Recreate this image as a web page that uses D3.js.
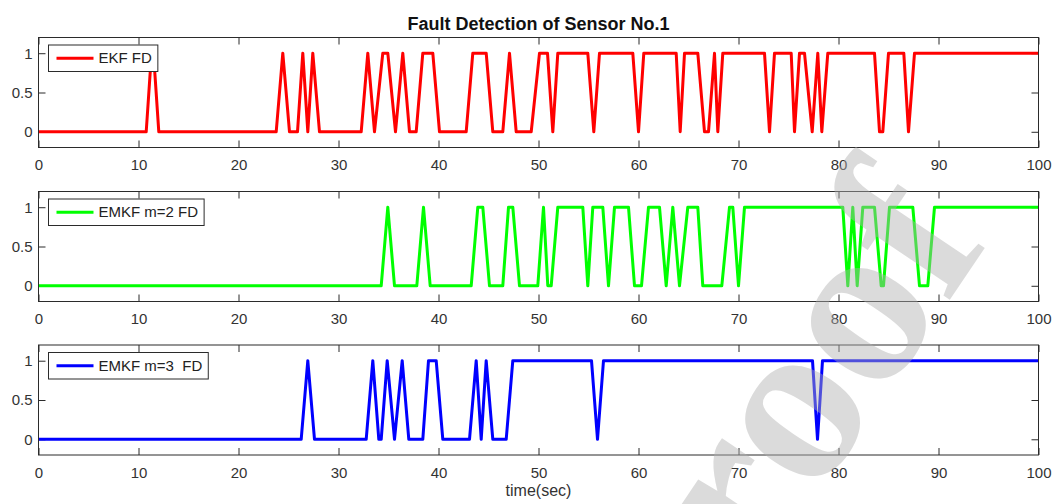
<!DOCTYPE html>
<html>
<head>
<meta charset="utf-8">
<script src="https://cdn.jsdelivr.net/npm/d3@7"></script>
<style>
html,body{margin:0;padding:0;background:#fff;}
svg{display:block;}
text{font-family:"Liberation Sans",Arial,Helvetica,sans-serif;}
</style>
</head>
<body>
<svg id="chart" width="1054" height="504"></svg>
<script>
// ---------------- data ----------------
const chartTitle = "Fault Detection of Sensor No.1";
const xLabel = "time(sec)";
const seriesNames = ["EKF FD", "EMKF m=2 FD", "EMKF m=3  FD"];
const xTickValues = [0, 10, 20, 30, 40, 50, 60, 70, 80, 90, 100];
const yTickValues = [0, 0.5, 1];

const ekfTime  = [0, 10.77, 11.3, 11.5, 12.03, 23.77, 24.43, 25.1, 25.9, 26.43, 26.93, 27.43, 28.1,
  32.27, 32.93, 33.6, 34.43, 34.93, 35.7, 36.43, 37.1, 37.77, 38.43, 39.43, 40.1,
  42.77, 43.43, 44.77, 45.43, 46.43, 47.1, 47.77, 49.27, 50.1, 50.9, 51.43, 51.93,
  54.93, 55.53, 56.1, 59.43, 60.0, 60.53, 63.77, 64.17, 64.6, 65.93, 66.6, 67.0, 67.6, 67.93, 68.43,
  72.6, 73.1, 73.6, 75.27, 75.6, 76.1, 76.6, 77.37, 77.93, 78.33, 78.93,
  83.6, 84.1, 84.43, 85.0, 86.53, 87.0, 87.6, 100];
const ekfValue = [0, 0, 1, 1, 0, 0, 1, 0, 0, 1, 0, 1, 0,
  0, 1, 0, 1, 1, 0, 1, 0, 0, 1, 1, 0,
  0, 1, 1, 0, 0, 1, 0, 0, 1, 1, 0, 1,
  1, 0, 1, 1, 0, 1, 1, 0, 1, 1, 0, 0, 1, 0, 1,
  1, 0, 1, 1, 0, 1, 1, 0, 1, 0, 1,
  1, 0, 0, 1, 1, 0, 1, 1];

const emkf2Time  = [0, 34.27, 34.93, 35.6, 37.83, 38.5, 39.17, 43.27, 43.93, 44.43, 45.1,
  46.43, 47.0, 47.43, 48.1, 49.93, 50.5, 50.93, 51.27, 51.93, 54.43, 54.93, 55.43,
  56.43, 57.0, 57.6, 59.0, 59.6, 60.3, 61.0, 62.1, 62.77, 63.43, 64.1, 64.93, 65.93, 66.43,
  68.33, 69.1, 69.43, 70.0, 70.6, 80.43, 80.93, 81.43, 81.87, 82.43, 83.6, 84.27, 84.5, 85.1,
  87.43, 88.1, 88.93, 89.6, 100];
const emkf2Value = [0, 0, 1, 0, 0, 1, 0, 0, 1, 1, 0,
  0, 1, 1, 0, 0, 1, 0, 0, 1, 1, 0, 1,
  1, 0, 1, 1, 0, 0, 1, 1, 0, 1, 0, 1, 1, 0,
  0, 1, 1, 0, 1, 1, 0, 1, 0, 1, 1, 0, 0, 1,
  1, 0, 0, 1, 1];

const emkf3Time  = [0, 26.27, 26.93, 27.6, 32.77, 33.43, 34.03, 34.27, 34.87, 35.6, 36.37, 37.03,
  38.43, 39.0, 39.77, 40.43, 43.1, 43.77, 44.27, 44.77, 45.43, 46.77, 47.43,
  55.3, 55.9, 56.5, 77.4, 77.9, 78.4, 100];
const emkf3Value = [0, 0, 1, 0, 0, 1, 0, 0, 1, 0, 1, 0,
  0, 1, 1, 0, 0, 1, 0, 1, 0, 0, 1,
  1, 0, 1, 1, 0, 1, 1];

// ---------------- layout / style ----------------
const seriesColors = ["#ff0000", "#00ff00", "#0000ff"];
const W = 1054, H = 504;
const plotLeft = 38.5, plotRight = 1038.5;
const panelTops = [37.5, 191.5, 345];
const panelH = 110;
const axisColor = "#2b2b2b";
const tickLen = 7;

const svg = d3.select("#chart");
svg.append("rect").attr("width", W).attr("height", H).attr("fill", "#fff");

const x = d3.scaleLinear().domain([0, 100]).range([plotLeft, plotRight]);

const seriesData = [
  ekfTime.map((t, i) => ({t, v: ekfValue[i]})),
  emkf2Time.map((t, i) => ({t, v: emkf2Value[i]})),
  emkf3Time.map((t, i) => ({t, v: emkf3Value[i]}))
];

panelTops.forEach((top, k) => {
  const y = d3.scaleLinear().domain([-0.2, 1.2]).range([top + panelH, top]);
  const g = svg.append("g");

  const bottom = g.append("g").attr("transform", `translate(0,${top + panelH})`)
    .call(d3.axisBottom(x).tickValues(xTickValues).tickSizeInner(-tickLen).tickSizeOuter(0).tickPadding(12).tickFormat(d3.format("d")));
  const topAx = g.append("g").attr("transform", `translate(0,${top})`)
    .call(d3.axisTop(x).tickValues(xTickValues).tickSizeInner(-tickLen).tickSizeOuter(0).tickFormat(""));
  const left = g.append("g").attr("transform", `translate(${plotLeft},0)`)
    .call(d3.axisLeft(y).tickValues(yTickValues).tickSizeInner(-tickLen).tickSizeOuter(0).tickPadding(6).tickFormat(d => d === 0.5 ? "0.5" : d3.format("d")(d)));
  const right = g.append("g").attr("transform", `translate(${plotRight},0)`)
    .call(d3.axisRight(y).tickValues(yTickValues).tickSizeInner(-tickLen).tickSizeOuter(0).tickFormat(""));
  [bottom, topAx, left, right].forEach(a => {
    a.select(".domain").remove();
    a.selectAll(".tick line").attr("stroke", axisColor).attr("stroke-width", 1);
    a.selectAll(".tick text").attr("fill", "#333").style("font-size", "15px")
      .style("font-family", "'Liberation Sans', Arial, sans-serif");
  });

  const line = d3.line().x(d => x(d.t)).y(d => y(d.v));
  g.append("path").datum(seriesData[k])
    .attr("d", line).attr("fill", "none")
    .attr("stroke", seriesColors[k]).attr("stroke-width", 3)
    .attr("stroke-linejoin", "round").attr("stroke-linecap", "butt");

  g.append("rect").attr("x", plotLeft).attr("y", top)
    .attr("width", plotRight - plotLeft).attr("height", panelH)
    .attr("fill", "none").attr("stroke", axisColor).attr("stroke-width", 1);

  const lx = plotLeft + 10, ly = top + 7.5, lh = 26.5;
  const leg = g.append("g");
  const box = leg.append("rect").attr("x", lx).attr("y", ly).attr("height", lh)
    .attr("fill", "#fff").attr("stroke", axisColor).attr("stroke-width", 1);
  leg.append("line").attr("x1", lx + 8).attr("x2", lx + 45)
    .attr("y1", ly + lh / 2).attr("y2", ly + lh / 2)
    .attr("stroke", seriesColors[k]).attr("stroke-width", 3);
  const lt = leg.append("text").attr("x", lx + 50).attr("y", ly + lh / 2 + 5)
    .attr("fill", "#222").style("font-size", "15px").style("white-space", "pre")
    .attr("xml:space", "preserve")
    .text(seriesNames[k]);
  const tw = lt.node().getComputedTextLength();
  box.attr("width", 50 + tw + 6);
});

svg.append("text").attr("x", (plotLeft + plotRight) / 2).attr("y", 30)
  .attr("text-anchor", "middle").attr("fill", "#111")
  .style("font-size", "18px").style("font-weight", "bold").text(chartTitle);
svg.append("text").attr("x", (plotLeft + plotRight) / 2).attr("y", 496)
  .attr("text-anchor", "middle").attr("fill", "#333")
  .style("font-size", "16px").text(xLabel);

// watermark (semi-transparent, drawn over the chart as in the reference)
svg.append("text")
  .attr("transform", "translate(990,240) rotate(-56)")
  .attr("text-anchor", "end")
  .attr("fill", "#b0b0b0").attr("opacity", 0.45)
  .style("font-family", "'Liberation Serif', 'Times New Roman', serif")
  .style("font-size", "235px").style("font-weight", "bold")
  .text("Journal Pre-proof");
</script>
</body>
</html>
